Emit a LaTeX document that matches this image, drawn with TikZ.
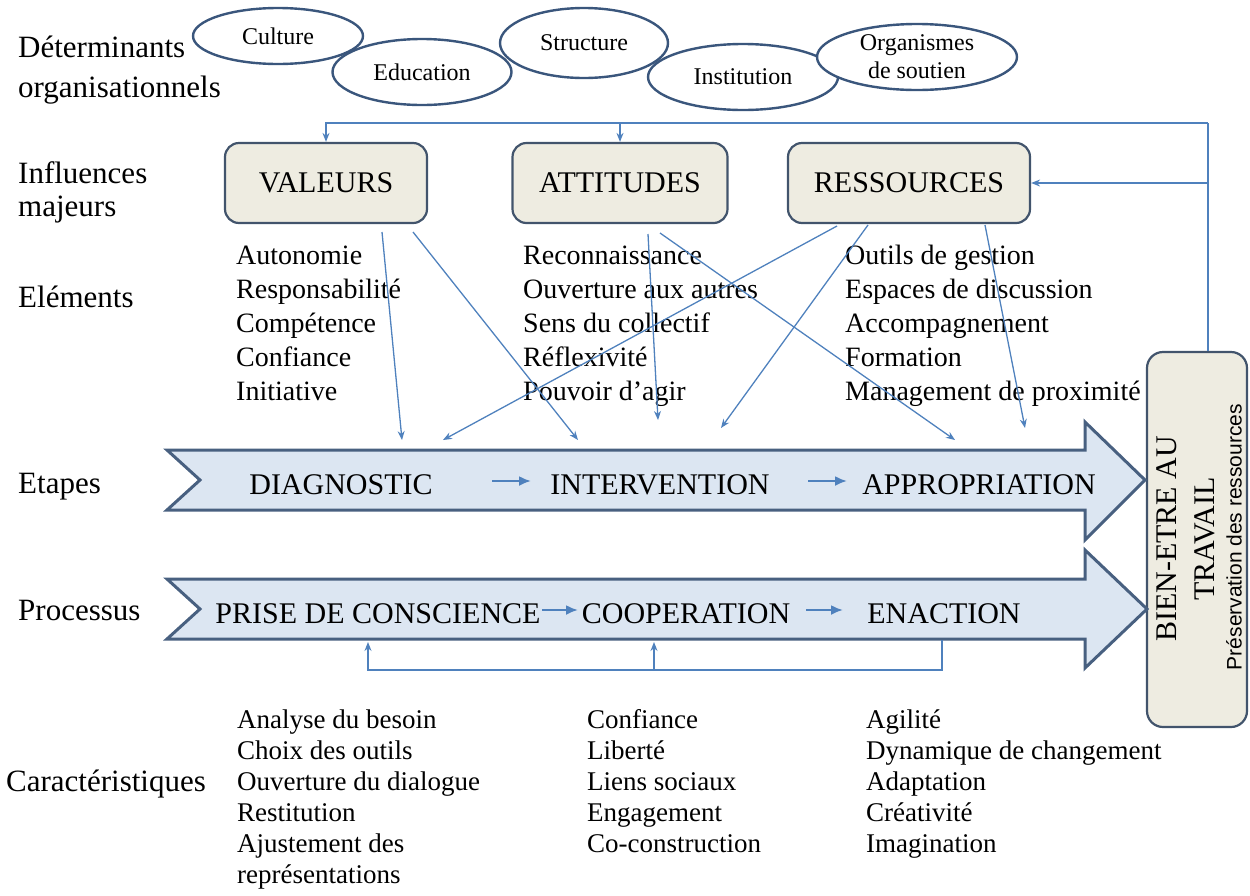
\documentclass[tikz,border=0pt]{standalone}
\usepackage{fontspec}
\setmainfont{Liberation Serif}
\setsansfont{Liberation Sans}
\usetikzlibrary{shapes.geometric,arrows.meta,calc}
\definecolor{bxborder}{RGB}{66,84,108}
\definecolor{bxfill}{RGB}{238,236,225}
\definecolor{ellborder}{RGB}{58,86,124}
\definecolor{arrfill}{RGB}{220,230,242}
\definecolor{arrborder}{RGB}{72,96,128}
\definecolor{connc}{RGB}{79,129,189}
\tikzset{
  lbl/.style={anchor=west, inner sep=0pt, font=\fontsize{31}{38}\selectfont, text height=22pt, text depth=7pt},
  ell/.style={ellipse, draw=ellborder, line width=2.4pt, fill=white, inner sep=0pt, align=center, font=\fontsize{24}{28}\selectfont},
  infbox/.style={draw=bxborder, fill=bxfill, rounded corners=14pt, line width=2.2pt, minimum height=80pt, inner sep=0pt, font=\fontsize{30}{36}\selectfont},
  bienbox/.style={draw=bxborder, fill=bxfill, rounded corners=16pt, line width=2.2pt, minimum width=100pt, minimum height=375pt, inner sep=0pt},
  listitem/.style={anchor=west, inner sep=0pt, font=\fontsize{28}{34}\selectfont, text height=20pt, text depth=6pt},
  listitemb/.style={anchor=west, inner sep=0pt, font=\fontsize{27}{31}\selectfont, text height=19pt, text depth=6pt},
  stage/.style={inner sep=0pt, font=\fontsize{30}{34}\selectfont, text height=20pt, text depth=0pt},
  conn/.style={draw=connc, line width=1.3pt, -{Stealth[length=9pt,width=7pt]}},
  plainconn/.style={draw=connc, line width=1.3pt},
  bigarr/.style={draw=arrborder, fill=arrfill, line width=3pt, line join=miter},
  smallarr/.style={draw=connc, line width=2.2pt, -{Latex[length=12pt,width=10pt]}},
}
\begin{document}
\begin{tikzpicture}[x=1pt,y=-1pt]
\useasboundingbox (0,0) rectangle (1250,895);
% left labels
\node[lbl] (l1a) at (18,50) {Déterminants};
\node[lbl] (l1b) at (18,90) {organisationnels};
\node[lbl] (l2a) at (18,176) {Influences};
\node[lbl] (l2b) at (18,209) {majeurs};
\node[lbl] (l3) at (18,300) {Eléments};
\node[lbl] (l4) at (18,486) {Etapes};
\node[lbl] (l5) at (18,613) {Processus};
\node[lbl] (l6) at (6,784) {Caractéristiques};
% ellipses
\node[ell, minimum width=170pt, minimum height=56pt] (cul) at (278,36) {Culture};
\node[ell, minimum width=179pt, minimum height=66pt] (edu) at (422,72) {Education};
\node[ell, minimum width=168pt, minimum height=70pt] (str) at (584,43) {Structure};
\node[ell, minimum width=190pt, minimum height=66pt] (ins) at (743,77) {Institution};
\node[ell, minimum width=200pt, minimum height=66pt] (org) at (917,57) {Organismes\\de soutien};
% influence boxes
\node[infbox, minimum width=202pt] (val) at (326,183) {VALEURS};
\node[infbox, minimum width=215pt] (att) at (620,183) {ATTITUDES};
\node[infbox, minimum width=242pt] (res) at (909,183) {RESSOURCES};
% outcome box
\node[bienbox] (bien) at (1197,539.5) {};
\node[rotate=90, inner sep=0pt, align=center, font=\fontsize{30}{38}\selectfont] (bt) at (1186,539) {BIEN-ETRE AU\\TRAVAIL};
\node[rotate=90, inner sep=0pt, font=\sffamily\fontsize{21}{25}\selectfont] (bs) at (1234,537) {Préservation des ressources};
% feedback from outcome to influences
\coordinate (fb) at (1208,123);
\draw[plainconn] (bien.north -| fb) -- (fb);
\draw[conn] (fb) -| (val.north);
\draw[conn] (fb -| att.north) -- (att.north);
\draw[conn] (fb |- res.east) -- (res.east);
% element lists
\foreach \t [count=\i from 0] in {Autonomie,Responsabilité,Compétence,Confiance,Initiative}
  \node[listitem] (ev\i) at (236,{257+34*\i}) {\t};
\foreach \t [count=\i from 0] in {Reconnaissance,Ouverture aux autres,Sens du collectif,Réflexivité,Pouvoir d’agir}
  \node[listitem] (ea\i) at (523,{257+34*\i}) {\t};
\foreach \t [count=\i from 0] in {Outils de gestion,Espaces de discussion,Accompagnement,Formation,Management\hspace{7pt}de proximité}
  \node[listitem] (er\i) at (845,{257+34*\i}) {\t};
% big arrows
\draw[bigarr] (167,450) -- (1085,450) -- (1085,422) -- (1145,480) -- (1085,540) -- (1085,510) -- (167,510) -- (200,480) -- cycle;
\draw[bigarr] (167,579) -- (1085,579) -- (1085,550) -- (1147,609) -- (1085,668) -- (1085,639) -- (167,639) -- (200,609) -- cycle;
% stage texts
\node[stage] (diag) at (341,484) {DIAGNOSTIC};
\node[stage] (inter) at (660,484) {INTERVENTION};
\node[stage] (appr) at (979,484) {APPROPRIATION};
\coordinate (s1a) at (492,481); \coordinate (s1b) at (531,481);
\coordinate (s2a) at (808,481); \coordinate (s2b) at (847,481);
\draw[smallarr] (s1a) -- (s1b);
\draw[smallarr] (s2a) -- (s2b);
\node[stage] (pdc) at (378,613) {PRISE DE CONSCIENCE};
\node[stage] (coop) at (686,613) {COOPERATION};
\node[stage] (ena) at (944,613) {ENACTION};
\coordinate (p1a) at (542,610); \coordinate (p1b) at (578,610);
\coordinate (p2a) at (806,610); \coordinate (p2b) at (843,610);
\draw[smallarr] (p1a) -- (p1b);
\draw[smallarr] (p2a) -- (p2b);
% diagonal influences
\coordinate (v1s) at (382,232); \coordinate (v1e) at (402,440);
\coordinate (v2s) at (413,232); \coordinate (v2e) at (578,440);
\coordinate (a1s) at (648,234); \coordinate (a1e) at (658,420);
\coordinate (a2s) at (660,233); \coordinate (a2e) at (955,440);
\coordinate (r1s) at (837,226); \coordinate (r1e) at (443,440);
\coordinate (r2s) at (868,225); \coordinate (r2e) at (721,428);
\coordinate (r3s) at (985,225); \coordinate (r3e) at (1025,428);
\draw[conn] (v1s) -- (v1e);
\draw[conn] (v2s) -- (v2e);
\draw[conn] (a1s) -- (a1e);
\draw[conn] (a2s) -- (a2e);
\draw[conn] (r1s) -- (r1e);
\draw[conn] (r2s) -- (r2e);
\draw[conn] (r3s) -- (r3e);
% process feedback
\coordinate (enb) at (942,640);
\coordinate (fbr) at (942,670);
\coordinate (pcu) at (368,642);
\coordinate (cou) at (654,642);
\draw[conn] (enb) -- (fbr) -| (pcu);
\draw[conn] (fbr -| cou) -- (cou);
% characteristics lists
\foreach \t [count=\i from 0] in {Analyse du besoin,Choix des outils,Ouverture du dialogue,Restitution,Ajustement des,représentations}
  \node[listitemb] (cp\i) at (237,{722+31*\i}) {\t};
\foreach \t [count=\i from 0] in {Confiance,Liberté,Liens sociaux,Engagement,Co-construction}
  \node[listitemb] (cc\i) at (587,{722+31*\i}) {\t};
\foreach \t [count=\i from 0] in {Agilité,Dynamique de changement,Adaptation,Créativité,Imagination}
  \node[listitemb] (ce\i) at (866,{722+31*\i}) {\t};
\end{tikzpicture}
\end{document}
